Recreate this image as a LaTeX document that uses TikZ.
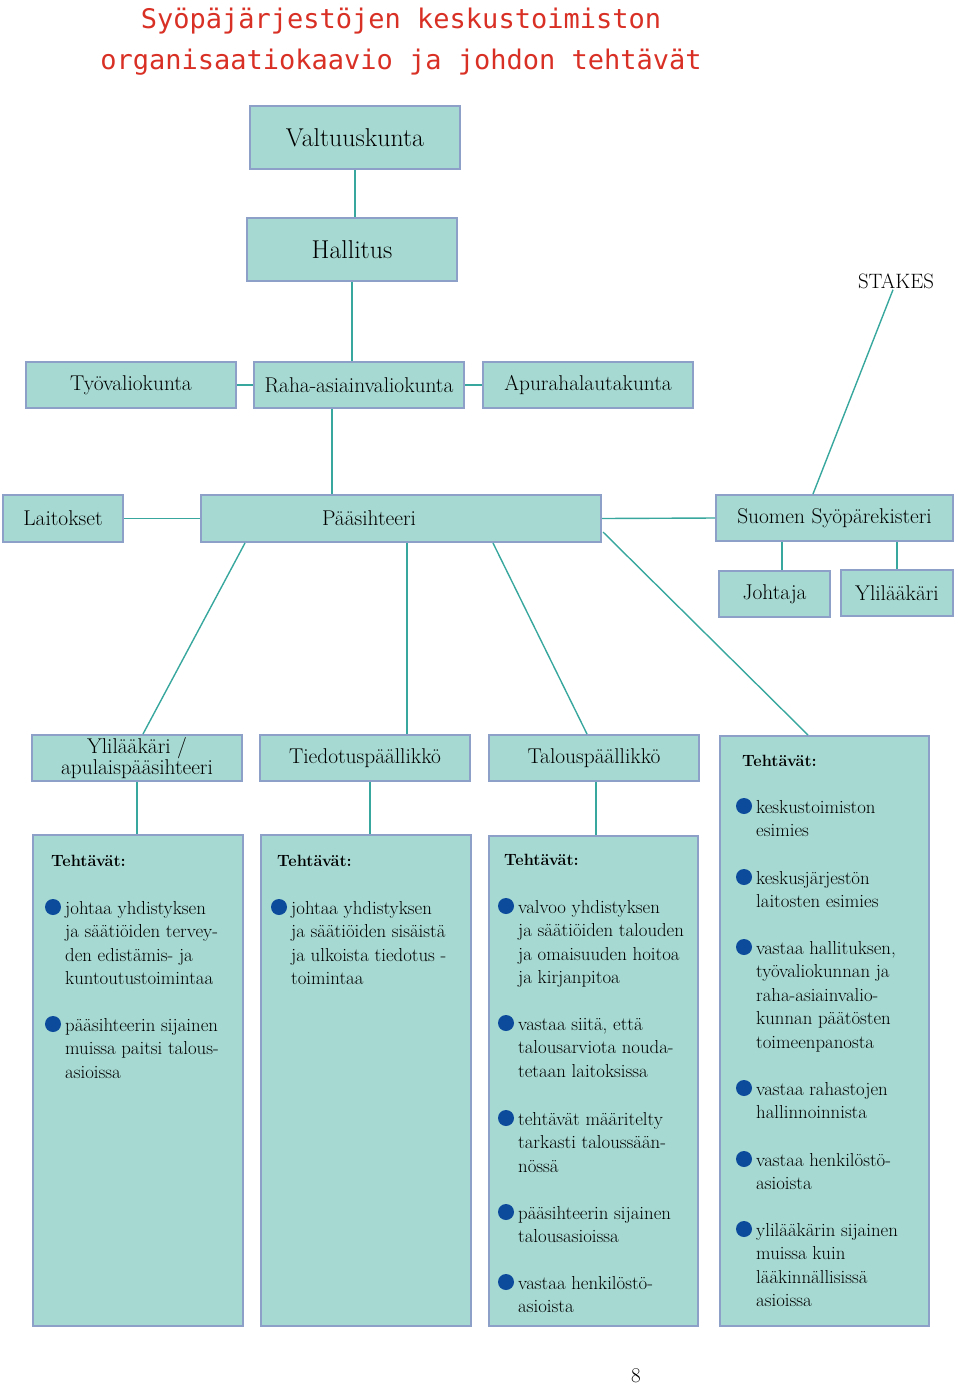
\documentclass[tikz,border=0pt]{standalone}
\usepackage{fontspec}
\setmonofont{DejaVu Sans Mono}
\usepackage{tikz}
\usepackage{xcolor}

\definecolor{tayte}{RGB}{166,217,210}
\definecolor{reuna}{RGB}{140,160,200}
\definecolor{viiva}{RGB}{56,168,158}
\definecolor{pallo}{RGB}{12,74,156}
\definecolor{punainen}{RGB}{217,48,37}

% bullet item: name, x, y (first baseline), lines
\newcommand{\kohta}[4]{%
  \fill[pallo] ({#2-12},{#3-7}) circle (8);
  \node[kohta] (#1) at (#2,{#3-15}) {\rule{0pt}{15pt}#4};
}

\begin{document}
\begin{tikzpicture}[x=1pt,y=1pt,yscale=-1,xscale=1,
  laatikko/.style={draw=reuna, fill=tayte, line width=2pt, inner sep=0pt, align=center, font=\fontsize{21.4}{20}\selectfont},
  yhteys/.style={draw=viiva, line width=1.4pt},
  kohta/.style={anchor=north west, align=left, inner sep=0pt, font=\fontsize{18.8}{23.5}\selectfont},
  otsake/.style={anchor=base west, inner sep=0pt, font=\fontsize{16.3}{18}\selectfont\bfseries},
  otsikko/.style={anchor=base, inner sep=0pt, text=punainen, font=\fontsize{27}{41}\selectfont\ttfamily}]
\useasboundingbox (0,0) rectangle (960,1385);

% Title
\node[otsikko] (otsikko1) at (401,28) {Syöpäjärjestöjen keskustoimiston};
\node[otsikko] (otsikko2) at (401,69) {organisaatiokaavio ja johdon tehtävät};

%Shape: Rectangle -- top of the chart
\node[laatikko, minimum width=210pt, minimum height=63pt, font=\fontsize{25.8}{28}\selectfont] (valt) at (355,137.5) {Valtuuskunta};
\node[laatikko, minimum width=210pt, minimum height=63pt, font=\fontsize{25.8}{28}\selectfont] (hall) at (352,249.5) {Hallitus};

%Shape: Rectangle -- committees
\node[laatikko, minimum width=210pt, minimum height=46pt] (tyo) at (131,385) {Työvaliokunta};
\node[laatikko, minimum width=210pt, minimum height=46pt] (raha) at (359,385) {Raha-asiainvaliokunta};
\node[laatikko, minimum width=210pt, minimum height=46pt] (apu) at (588,385) {Apurahalautakunta};

%Shape: Rectangle -- secretary general row
\node[laatikko, minimum width=120pt, minimum height=47pt] (lait) at (63,518.5) {Laitokset};
\node[laatikko, minimum width=400pt, minimum height=47pt] (paa) at (401,518.5) {Pääsihteeri\hspace*{64pt}};
\node[laatikko, minimum width=237pt, minimum height=46pt] (syop) at (834.5,518) {Suomen Syöpärekisteri};
\node[laatikko, minimum width=111pt, minimum height=46pt] (joht) at (774.5,594) {Johtaja};
\node[laatikko, minimum width=112pt, minimum height=46pt] (ylil) at (897,593) {Ylilääkäri};

% Text Node
\node[inner sep=1pt, font=\fontsize{20.8}{22}\selectfont] (stakes) at (896,281) {STAKES};

%Shape: Rectangle -- managers
\node[laatikko, minimum width=210pt, minimum height=46pt] (apul) at (137,758) {Ylilääkäri /\\apulaispääsihteeri};
\node[laatikko, minimum width=210pt, minimum height=46pt] (tied) at (365,758) {Tiedotuspäällikkö};
\node[laatikko, minimum width=210pt, minimum height=46pt] (talp) at (594,758) {Talouspäällikkö};

%Shape: Rectangle -- task boxes
\node[laatikko, minimum width=210pt, minimum height=491pt] (teh1) at (138,1080.5) {};
\node[laatikko, minimum width=210pt, minimum height=491pt] (teh2) at (366,1080.5) {};
\node[laatikko, minimum width=209pt, minimum height=490pt] (teh3) at (593.5,1081) {};
\node[laatikko, minimum width=209pt, minimum height=590pt] (teh4) at (824.5,1031) {};

% connectors
\draw[yhteys] (valt.south) -- (valt.south |- hall.north);
\draw[yhteys] (hall.south) -- (hall.south |- raha.north);
\draw[yhteys] (tyo.east) -- (raha.west);
\draw[yhteys] (raha.east) -- (apu.west);
\draw[yhteys] ([xshift=-27pt]raha.south) -- ([xshift=-27pt]raha.south |- paa.north);
\draw[yhteys] (lait.east) -- (paa.west);
\draw[yhteys] (paa.east) -- (syop.west);
\draw[yhteys] ([xshift=-3pt]stakes.south) -- ([xshift=-21.5pt]syop.north);
\draw[yhteys] ([xshift=7.5pt]joht.north |- syop.south) -- ([xshift=7.5pt]joht.north);
\draw[yhteys] (ylil.north |- syop.south) -- (ylil.north);
\draw[yhteys] ([xshift=45pt]paa.south west) -- ([xshift=6pt]apul.north);
\draw[yhteys] ([xshift=42pt]tied.north |- paa.south) -- ([xshift=42pt]tied.north);
\draw[yhteys] ([xshift=92pt]paa.south) -- ([xshift=-7pt]talp.north);
\draw[yhteys] (paa.south east) ++(1,-11) -- ([xshift=-16.5pt]teh4.north);
\draw[yhteys] (apul.south) -- (apul.south |- teh1.north);
\draw[yhteys] ([xshift=5pt]tied.south) -- ([xshift=5pt]tied.south |- teh2.north);
\draw[yhteys] ([xshift=2pt]talp.south) -- ([xshift=2pt]talp.south |- teh3.north);

% Text Node -- Tehtävät
\node[otsake] (otsake1) at (51,866) {Tehtävät:};
\node[otsake] (otsake2) at (277,866) {Tehtävät:};
\node[otsake] (otsake3) at (504,865) {Tehtävät:};
\node[otsake] (otsake4) at (742,766) {Tehtävät:};

% bullet items
\kohta{t1a}{65}{914}{johtaa yhdistyksen\\ja säätiöiden tervey-\\den edistämis- ja\\kuntoutustoimintaa}
\kohta{t1b}{65}{1031}{pääsihteerin sijainen\\muissa paitsi talous-\\asioissa}

\kohta{t2a}{291}{914}{johtaa yhdistyksen\\ja säätiöiden sisäistä\\ja ulkoista tiedotus -\\toimintaa}

\kohta{t3a}{518}{913}{valvoo yhdistyksen\\ja säätiöiden talouden\\ja omaisuuden hoitoa\\ja kirjanpitoa}
\kohta{t3b}{518}{1030}{vastaa siitä, että\\talousarviota nouda-\\tetaan laitoksissa}
\kohta{t3c}{518}{1125}{tehtävät määritelty\\tarkasti taloussään-\\nössä}
\kohta{t3d}{518}{1219}{pääsihteerin sijainen\\talousasioissa}
\kohta{t3e}{518}{1289}{vastaa henkilöstö-\\asioista}

\kohta{t4a}{756}{813}{keskustoimiston\\esimies}
\kohta{t4b}{756}{884}{keskusjärjestön\\laitosten esimies}
\kohta{t4c}{756}{954}{vastaa hallituksen,\\työvaliokunnan ja\\raha-asiainvalio-\\kunnan päätösten\\toimeenpanosta}
\kohta{t4d}{756}{1095}{vastaa rahastojen\\hallinnoinnista}
\kohta{t4e}{756}{1166}{vastaa henkilöstö-\\asioista}
\kohta{t4f}{756}{1236}{ylilääkärin sijainen\\muissa kuin\\lääkinnällisissä\\asioissa}

% Text Node -- page number
\node[anchor=base, inner sep=0pt, font=\fontsize{21}{24}\selectfont] (sivu) at (636,1382) {8};

\end{tikzpicture}
\end{document}
